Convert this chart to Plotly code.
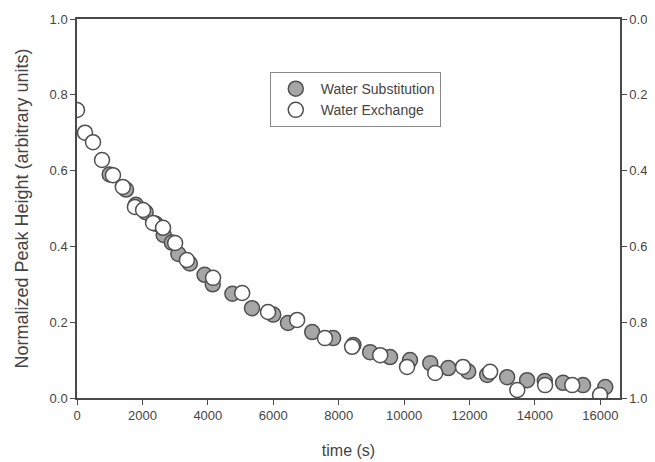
import plotly.graph_objects as go

# Water Substitution (grey filled)
sub_t = [1000, 1500, 1800, 2100, 2400, 2650, 2900, 3100, 3450, 3900, 4150, 4750,
         5350, 6000, 6450, 7190, 7830, 8450, 8960, 9570, 10180, 10800, 11350,
         11960, 12540, 13150, 13760, 14300, 14860, 15470, 16150]
sub_v = [0.59, 0.55, 0.51, 0.49, 0.46, 0.43, 0.41, 0.38, 0.355, 0.325, 0.30, 0.275,
         0.237, 0.22, 0.198, 0.174, 0.158, 0.14, 0.121, 0.108, 0.10, 0.092, 0.079,
         0.07, 0.061, 0.055, 0.047, 0.045, 0.04, 0.034, 0.029]

# Water Exchange (white open)
exc_t = [0, 245, 490, 765, 1100, 1400, 1770, 2020, 2325, 2630, 3000, 3360, 4160,
         5050, 5840, 6730, 7580, 8410, 9270, 10090, 10950, 11800, 12630, 13460,
         14310, 15140, 15990]
exc_v = [0.76, 0.70, 0.675, 0.628, 0.588, 0.557, 0.504, 0.496, 0.462, 0.449, 0.409,
         0.364, 0.317, 0.277, 0.227, 0.206, 0.158, 0.135, 0.113, 0.082, 0.066, 0.082,
         0.069, 0.021, 0.034, 0.034, 0.008]

x_ticks = [0, 2000, 4000, 6000, 8000, 10000, 12000, 14000, 16000]
y_ticks = [0.0, 0.2, 0.4, 0.6, 0.8, 1.0]

font = "Liberation Sans, Arial, sans-serif"
axis_col = "#4a4a4a"
text_col = "#444444"

fig = go.Figure()
fig.add_trace(go.Scatter(
    x=sub_t, y=sub_v, mode="markers", name="Water Substitution",
    marker=dict(symbol="circle", size=15, color="#a6a6a6",
                line=dict(color="#505050", width=1.5))))
fig.add_trace(go.Scatter(
    x=exc_t, y=exc_v, mode="markers", name="Water Exchange",
    marker=dict(symbol="circle", size=15, color="white",
                line=dict(color="#505050", width=1.5))))
fig.add_trace(go.Scatter(x=[None], y=[None], yaxis="y2", showlegend=False,
                         hoverinfo="skip", mode="markers"))

fig.update_layout(
    width=655, height=462,
    margin=dict(l=69, r=43, t=11, b=72, autoexpand=False),
    paper_bgcolor="white", plot_bgcolor="white",
    font=dict(family=font, size=13, color=text_col),
    showlegend=True,
    legend=dict(x=0.355, y=0.86, xanchor="left", yanchor="top",
                bordercolor="#888888", borderwidth=1, bgcolor="white",
                font=dict(size=14, color=text_col),
                itemwidth=40, entrywidth=160, tracegroupgap=4),
    xaxis=dict(range=[0, 16600], tickvals=x_ticks,
               ticktext=[str(v) for v in x_ticks],
               showline=True, linecolor=axis_col, linewidth=1.5, mirror=True,
               ticks="outside", ticklen=5, tickcolor=axis_col, showgrid=False,
               zeroline=False,
               title=dict(text="time (s)", font=dict(size=16, color=text_col),
                          standoff=22)),
    yaxis=dict(range=[0, 1.0], tickvals=y_ticks,
               ticktext=["%.1f" % v for v in y_ticks],
               showline=True, linecolor=axis_col, linewidth=1.5,
               ticks="outside", ticklen=5, tickcolor=axis_col, showgrid=False,
               zeroline=False,
               title=dict(text="Normalized Peak Height (arbitrary units)",
                          font=dict(size=18, color=text_col), standoff=16)),
    yaxis2=dict(range=[1.0, 0], tickvals=y_ticks,
                ticktext=["%.1f" % v for v in y_ticks],
                overlaying="y", side="right", showline=True, linecolor=axis_col,
                linewidth=1.5, ticks="outside", ticklen=5, tickcolor=axis_col,
                showgrid=False, zeroline=False),
)

fig.write_html("out.html")
